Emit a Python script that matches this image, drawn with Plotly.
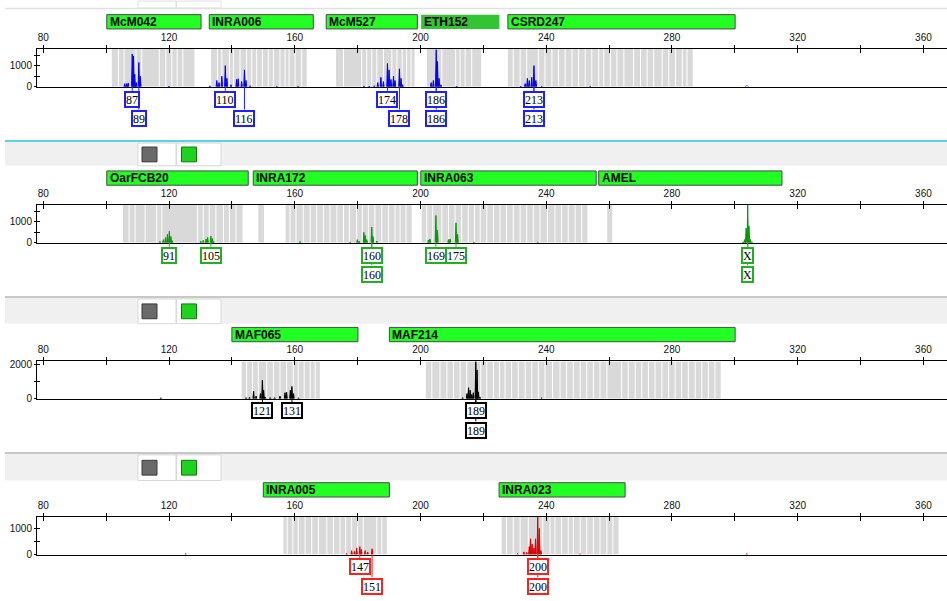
import plotly.graph_objects as go

W, H = 947, 601

# ---------------- data ----------------
tick_vals = [80, 100, 120, 140, 160, 180, 200, 220, 240, 260, 280, 300, 320, 340, 360]
tick_text = ["80", "", "120", "", "160", "", "200", "", "240", "", "280", "", "320", "", "360"]

# panel 1 (blue)
m1_names = ["McM042", "INRA006", "McM527", "ETH152", "CSRD247"]
m1_start = [100.2, 132.8, 170.0, 200.2, 227.8]
m1_end = [130.2, 165.9, 199.0, 225.1, 300.1]
blue_x = [105.9, 106.5, 107.0, 108.3, 108.7, 109.1, 109.6, 110.4, 110.9, 120.0,
          133.0, 135.2, 135.9, 136.8, 137.9, 138.4, 139.7, 141.5, 142.0, 143.1, 144.0, 144.5, 145.8, 154.3, 161.1,
          182.0, 183.7, 185.3, 186.4, 187.4, 188.2, 189.5, 190.0, 190.6, 191.4, 191.9, 193.3, 193.8, 194.3,
          203.4, 204.1, 205.0, 205.4, 205.9, 206.5, 211.5,
          231.9, 233.3, 234.0, 234.6, 235.4, 236.1, 236.7, 238.6, 254.0]
blue_h = [150, 150, 180, 1550, 1450, 600, 200, 1150, 500, 40,
          50, 300, 200, 500, 1000, 400, 100, 350, 380, 250, 800, 300, 50, 30, 40,
          40, 40, 50, 200, 450, 250, 1100, 800, 350, 500, 300, 850, 400, 100,
          200, 300, 1750, 1200, 400, 100, 40,
          40, 150, 400, 300, 450, 1000, 300, 30, 30]
blue_open_x = [303.8]
blue_open_h = [70]
a1_text = ["87", "89", "110", "116", "174", "178", "186", "186", "213", "213"]
a1_x = [108.3, 110.4, 137.9, 144.0, 189.5, 193.3, 205.0, 205.0, 236.1, 236.1]
a1_row = [1, 2, 1, 2, 1, 2, 1, 2, 1, 2]
bins1 = [(101.8, 128.1), (133.4, 163.8), (173.1, 198.1), (202.0, 219.3), (227.8, 286.6)]
gaps1 = [103.9, 105.7, 109.5, 111.3, 116.9, 119.0, 120.9, 122.6, 124.4,
         135.4, 136.8, 139.2, 140.5, 142.6, 144.7, 146.3, 147.9, 149.7, 151.6, 153.2, 155.3, 156.9, 158.2, 160.1, 162.2,
         175.5, 181.3, 182.9, 184.5, 186.1, 188.2, 190.9, 192.5, 194.2, 195.6, 197.0,
         206.8, 211.2, 212.6, 214.2, 216.3,
         229.5, 231.7, 233.8, 237.5, 239.6, 241.8, 243.9, 246.0, 248.2, 250.3, 252.4, 254.5, 256.7, 258.3,
         260.4, 262.5, 264.7, 267.8, 270.0, 272.1, 274.2, 276.9, 279.0, 281.1, 283.3, 284.8]

# panel 2 (green)
m2_names = ["OarFCB20", "INRA172", "INRA063", "AMEL"]
m2_start = [100.2, 146.8, 200.1, 256.7]
m2_end = [145.2, 199.0, 255.9, 315.0]
green_x = [117.1, 118.2, 118.9, 119.5, 120.1, 120.6, 121.0,
           130.1, 130.9, 131.8, 132.3, 133.3, 133.8, 134.2,
           161.7,
           177.6, 179.9, 180.5, 182.0, 182.4, 182.9, 184.5, 184.9, 186.1,
           202.5, 203.0, 204.9, 205.4, 208.9, 209.4, 211.3, 211.8, 217.0, 237.3,
           302.6, 303.1, 303.6, 304.1, 304.5, 305.0, 305.5]
green_h = [60, 150, 250, 400, 550, 300, 100,
           80, 120, 180, 250, 320, 200, 60,
           60,
           40, 150, 80, 500, 350, 150, 750, 300, 80,
           120, 180, 1300, 600, 150, 180, 950, 400, 40, 30,
           40, 150, 700, 1800, 800, 150, 40]
a2_text = ["91", "105", "160", "160", "169", "175", "X", "X"]
a2_x = [120.1, 133.3, 184.5, 184.5, 204.9, 211.3, 304.1, 304.1]
a2_row = [1, 1, 1, 2, 1, 1, 1, 2]
bins2 = [(105.3, 143.4), (148.4, 150.2), (157.1, 197.2), (200.4, 253.1), (259.4, 261.0)]
gaps2 = [107.3, 109.2, 112.4, 116.1, 117.7, 129.1, 130.9, 132.8, 134.9, 137.3, 139.2, 141.3,
         158.5, 160.4, 162.7, 164.9, 167.0, 169.1, 171.2, 173.4, 175.5, 177.4, 179.7, 181.5, 183.4,
         185.5, 187.7, 189.8, 191.9, 193.5, 195.4,
         202.0, 203.9, 206.8, 208.9, 211.0, 213.1, 215.2, 217.2, 219.0, 221.1, 223.2, 225.3, 227.4,
         229.5, 231.7, 233.8, 235.9, 238.0, 240.4, 242.8, 244.9, 247.0, 249.2, 251.3]

# panel 3 (black)
m3_names = ["MAF065", "MAF214"]
m3_start = [140.0, 190.1]
m3_end = [180.1, 300.1]
black_x = [117.4,
           144.5, 145.6, 146.9, 147.7, 149.1, 149.7, 150.1, 150.6, 152.2, 153.6, 155.3, 156.9, 157.4,
           158.6, 159.1, 159.6, 161.2,
           213.4, 214.8, 215.3, 215.8, 216.3, 216.8, 217.6, 218.0, 218.4, 218.9, 238.5]
black_h = [50,
           60, 80, 450, 150, 300, 1100, 500, 100, 60, 60, 150, 350, 380,
           500, 720, 300, 50,
           60, 300, 650, 500, 250, 350, 2200, 1700, 400, 100, 40]
a3_text = ["121", "131", "189", "189"]
a3_x = [149.7, 159.1, 217.6, 217.6]
a3_row = [1, 1, 1, 2]
bins3 = [(143.1, 168.0), (201.7, 295.5)]
gaps3 = [144.7, 146.6, 148.4, 151.1, 153.2, 155.3, 157.4, 159.5, 161.1, 163.0, 164.9, 166.5,
         203.6, 206.2, 208.4, 210.5, 212.6, 214.7, 219.2, 221.1, 223.2, 225.1, 226.9, 229.0, 231.1,
         233.3, 235.4, 237.5, 239.6, 242.0, 244.4, 246.5, 248.6, 250.8, 252.9, 255.0, 257.1, 259.3,
         264.0, 266.1, 268.3, 270.4, 272.5, 274.6, 276.8, 278.9, 281.0, 283.1, 285.2, 287.4, 289.5,
         291.6, 293.7]

# panel 4 (red)
m4_names = ["INRA005", "INRA023"]
m4_start = [150.0, 225.0]
m4_end = [190.1, 265.1]
red_x = [125.3,
         176.5, 178.1, 179.0, 179.7, 180.7, 181.2, 182.4, 183.2, 184.6,
         230.9, 232.9, 233.8, 234.6, 235.0, 235.5, 236.1, 236.6, 237.3, 237.8, 238.3, 250.8, 303.8]
red_h = [40,
         40, 150, 120, 250, 300, 200, 150, 100, 220,
         40, 100, 80, 300, 600, 400, 250, 600, 1450, 1000, 150, 30, 40]
a4_text = ["147", "151", "200", "200"]
a4_x = [180.7, 184.6, 237.3, 237.3]
a4_row = [1, 2, 1, 2]
bins4 = [(156.4, 189.3), (225.8, 263.0)]
gaps4 = [157.6, 159.4, 161.1, 163.3, 165.4, 167.5, 170.2, 172.3, 174.4, 176.2, 178.1, 180.0, 181.8,
         186.1, 187.7,
         227.4, 229.5, 231.7, 234.3, 238.9, 241.2, 242.8, 244.9, 247.0, 248.6, 250.8, 252.9, 255.0,
         257.1, 259.3, 261.2]

y_max = [1800, 1800, 2200, 1440]
y_tickvals = [[0, 500, 1000, 1500], [0, 500, 1000, 1500], [0, 1000, 2000], [0, 500, 1000]]
y_ticktext = [["0", "", "1000", ""], ["0", "", "1000", ""], ["0", "", "2000"], ["0", "", "1000"]]

# ---------------- layout geometry (pixels) ----------------
X_RANGE = [78.0, 367.5]
X_DOM = [37 / W, 1.0]
AX_TOP = [47.3, 205.7, 364.3, 521.7]
AX_BASE = [86.0, 244.0, 402.0, 560.0]


def py(p):
    return 1 - p / H


def px(p):
    return p / W


panels = [
    dict(names=m1_names, start=m1_start, end=m1_end, xs=blue_x, hs=blue_h, color="#0000ee",
         lab=a1_text, lx=a1_x, row=a1_row, lcol="#2020ff", bins=bins1, gaps=gaps1),
    dict(names=m2_names, start=m2_start, end=m2_end, xs=green_x, hs=green_h, color="#009a00",
         lab=a2_text, lx=a2_x, row=a2_row, lcol="#22b022", bins=bins2, gaps=gaps2),
    dict(names=m3_names, start=m3_start, end=m3_end, xs=black_x, hs=black_h, color="#000000",
         lab=a3_text, lx=a3_x, row=a3_row, lcol="#000000", bins=bins3, gaps=gaps3),
    dict(names=m4_names, start=m4_start, end=m4_end, xs=red_x, hs=red_h, color="#e00000",
         lab=a4_text, lx=a4_x, row=a4_row, lcol="#ff2020", bins=bins4, gaps=gaps4),
]


def spikes(xs, hs, w=0.22):
    X, Y = [], []
    for x, h in sorted(zip(xs, hs)):
        X += [x - w, x, x + w, None]
        Y += [0, h, 0, None]
    return X, Y


fig = go.Figure()
shapes = []
annotations = []
layout = dict(width=W, height=H, margin=dict(l=0, r=0, t=0, b=0),
              paper_bgcolor="white", plot_bgcolor="rgba(0,0,0,0)", showlegend=False,
              font=dict(family="Liberation Sans", size=10, color="#111"))


def toolbar(top, bot, line_col):
    shapes.append(dict(type="rect", xref="paper", yref="paper", x0=px(5), x1=1, y0=py(bot), y1=py(top),
                       fillcolor="#f0f0f0", line=dict(width=0)))
    shapes.append(dict(type="line", xref="paper", yref="paper", x0=px(5), x1=1, y0=py(top), y1=py(top),
                       line=dict(color=line_col, width=2)))
    b0 = top + 2
    for (a, b) in [(138, 176), (176.5, 221)]:
        shapes.append(dict(type="rect", xref="paper", yref="paper", x0=px(a), x1=px(b), y0=py(bot), y1=py(b0),
                           fillcolor="white", line=dict(color="#d8d8d8", width=1)))
    c = (b0 + bot) / 2
    shapes.append(dict(type="rect", xref="paper", yref="paper", x0=px(142), x1=px(157), y0=py(c + 7.5),
                       y1=py(c - 7.5), fillcolor="#6a6a6a", line=dict(color="#3a3a3a", width=1)))
    shapes.append(dict(type="rect", xref="paper", yref="paper", x0=px(181.5), x1=px(196.5), y0=py(c + 7.5),
                       y1=py(c - 7.5), fillcolor="#1ed21e", line=dict(color="#0a7a0a", width=1)))


toolbar(141, 166, "#5ad4e0")
toolbar(299, 326, "#c8c8c8")
toolbar(457, 485, "#c8c8c8")
# remnants at very top
shapes.append(dict(type="line", xref="paper", yref="paper", x0=px(5), x1=1, y0=py(6.5), y1=py(6.5),
                   line=dict(color="#e0e0e0", width=1.5)))
for (a, b) in [(138, 176), (176.5, 221)]:
    shapes.append(dict(type="rect", xref="paper", yref="paper", x0=px(a), x1=px(b), y0=py(6), y1=py(-1),
                       fillcolor="white", line=dict(color="#e0e0e0", width=1)))

for i, p in enumerate(panels):
    n = i + 1
    xa, ya = f"x{n}", f"y{n}"
    xo, yo = n + 4, n + 4
    top, base = AX_TOP[i], AX_BASE[i]
    ydom = [py(base), py(top)]
    sfx = "" if n == 1 else str(n)

    layout[f"xaxis{sfx}"] = dict(domain=X_DOM, range=X_RANGE, anchor=ya, side="top", showgrid=False,
                                 zeroline=False, showline=True, linecolor="#000", linewidth=1, mirror=True,
                                 ticks="outside", ticklen=3, tickcolor="#000", tickvals=tick_vals,
                                 ticktext=tick_text, tickfont=dict(size=10, color="#111"))
    layout[f"yaxis{sfx}"] = dict(domain=ydom, range=[0, y_max[i]], anchor=xa, showgrid=False, zeroline=False,
                                 showline=True, linecolor="#000", linewidth=1, ticks="outside", ticklen=2,
                                 tickcolor="#000", tickvals=y_tickvals[i], ticktext=y_ticktext[i],
                                 tickfont=dict(size=10, color="#111"))
    layout[f"xaxis{xo}"] = dict(domain=X_DOM, range=X_RANGE, anchor=ya, overlaying=xa, side="top",
                                showgrid=False, zeroline=False, showline=False, ticks="inside", ticklen=4,
                                tickcolor="#000", tickvals=tick_vals, showticklabels=False)
    layout[f"yaxis{yo}"] = dict(domain=ydom, range=[0, y_max[i]], anchor=xa, overlaying=ya, side="left",
                                showgrid=False, zeroline=False, showline=False, ticks="inside", ticklen=3,
                                tickcolor="#000", tickvals=y_tickvals[i], showticklabels=False)
    fig.add_trace(go.Scatter(x=[None], y=[None], xaxis=f"x{xo}", yaxis=f"y{yo}", hoverinfo="skip"))

    # allele bins
    for (b0, b1) in p["bins"]:
        shapes.append(dict(type="rect", xref=xa, yref=ya, x0=b0, x1=b1, y0=0, y1=y_max[i],
                           fillcolor="#d9d9d9", line=dict(width=0), layer="below"))
    for g in p["gaps"]:
        shapes.append(dict(type="line", xref=xa, yref=ya, x0=g, x1=g, y0=0, y1=y_max[i],
                           line=dict(color="white", width=1), layer="below"))

    # peaks
    X, Y = spikes(p["xs"], p["hs"])
    fig.add_trace(go.Scatter(x=X, y=Y, xaxis=xa, yaxis=ya, mode="lines", fill="tozeroy",
                             connectgaps=False,
                             line=dict(color=p["color"], width=1), fillcolor=p["color"], hoverinfo="skip"))

    # marker bars
    for name, s, e in zip(p["names"], p["start"], p["end"]):
        eth = name == "ETH152"
        shapes.append(dict(type="rect", xref=xa, yref="paper", x0=s, x1=e, y0=py(top - 20), y1=py(top - 34.5),
                           fillcolor="#33c433" if eth else "#22ff22",
                           line=dict(color="#4a4a4a", width=0 if eth else 1)))
        annotations.append(dict(xref=xa, yref="paper", x=s, xanchor="left", xshift=1, y=py(top - 27.2),
                                yanchor="middle", text=f"<b>{name}</b>", showarrow=False,
                                font=dict(family="Liberation Sans", size=12, color="#000")))

    # allele call labels
    for t, lx, r in zip(p["lab"], p["lx"], p["row"]):
        box_top = base + (4 if r == 1 else 23)
        cy = base + (12.5 if r == 1 else 32)
        shapes.append(dict(type="line", xref=xa, yref="paper", x0=lx, x1=lx, y0=py(base), y1=py(box_top),
                           line=dict(color=p["lcol"], width=1)))
        annotations.append(dict(xref=xa, yref="paper", x=lx, y=py(cy), xanchor="center", yanchor="middle",
                                text=t, showarrow=False, bgcolor="white", bordercolor=p["lcol"],
                                borderwidth=2, borderpad=0, height=13,
                                font=dict(family="Liberation Serif", size=12, color="#000")))

# open (unfilled) peak in panel 1
Xo, Yo = spikes(blue_open_x, blue_open_h, w=0.6)
fig.add_trace(go.Scatter(x=Xo, y=Yo, xaxis="x1", yaxis="y1", mode="lines",
                         line=dict(color="#5a5aff", width=1), hoverinfo="skip"))

layout["shapes"] = shapes
layout["annotations"] = annotations
fig.update_layout(**layout)
fig.write_html("out.html", config={"displayModeBar": False},
               post_script="document.body.style.margin='0';document.body.style.overflow='hidden';")
